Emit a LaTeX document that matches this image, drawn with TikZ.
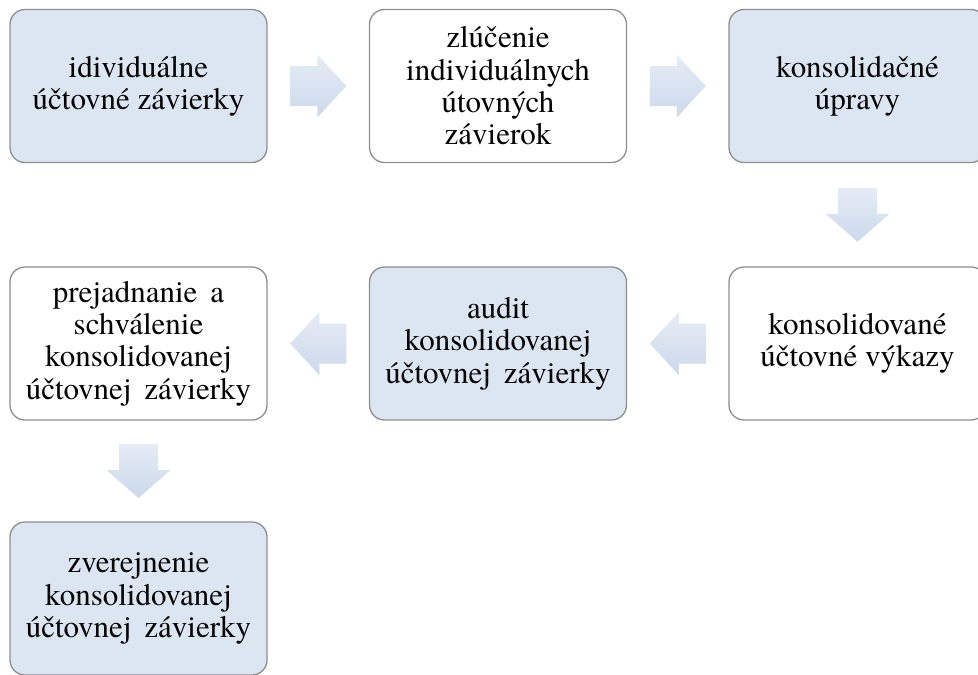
\documentclass[tikz,border=0pt]{standalone}
\usepackage{fontspec}
\newfontfamily\tnr{texgyretermes-regular.otf}
\usetikzlibrary{calc}
\definecolor{boxblue}{HTML}{DCE6F2}
\definecolor{boxgray}{HTML}{8E8E8E}
\definecolor{arrtop}{HTML}{E6ECF6}
\definecolor{arrbot}{HTML}{CCD8EB}
\tikzset{
  stepbox/.style={draw=boxgray, line width=1.3pt, rounded corners=15pt,
    minimum width=257pt, minimum height=153pt, align=center, inner sep=0pt,
    font=\tnr\fontsize{31}{32.3}\selectfont,
    execute at begin node={\rule{0pt}{28.5pt}}},
  bluebox/.style={stepbox, fill=boxblue},
  whitebox/.style={stepbox, fill=white},
  arrowfill/.style={top color=arrtop, bottom color=arrbot, draw=none}
}
\newcommand\rightblock[2]{%
  \coordinate (m) at ($(#1.east)!0.5!(#2.west)$);
  \path[arrowfill] ($(m)+(-28,-20)$) -- ($(m)+(-1,-20)$) -- ($(m)+(-1,-31.5)$) -- ($(m)+(28,0)$)
     -- ($(m)+(-1,31.5)$) -- ($(m)+(-1,20)$) -- ($(m)+(-28,20)$) -- cycle;}
\newcommand\leftblock[2]{%
  \coordinate (m) at ($(#1.west)!0.5!(#2.east)$);
  \path[arrowfill] ($(m)+(28,-20)$) -- ($(m)+(1,-20)$) -- ($(m)+(1,-31.5)$) -- ($(m)+(-28,0)$)
     -- ($(m)+(1,31.5)$) -- ($(m)+(1,20)$) -- ($(m)+(28,20)$) -- cycle;}
\newcommand\downblock[2]{%
  \coordinate (m) at ($(#1.south)!0.5!(#2.north)$);
  \path[arrowfill] ($(m)+(-19.5,-27)$) -- ($(m)+(19.5,-27)$) -- ($(m)+(19.5,-1)$) -- ($(m)+(32,-1)$)
     -- ($(m)+(0,27)$) -- ($(m)+(-32,-1)$) -- ($(m)+(-19.5,-1)$) -- cycle;}
\begin{document}
\begin{tikzpicture}[x=1pt,y=-1pt]
\useasboundingbox (0,0) rectangle (978,675);
\node[bluebox]  (b1) at (138.5,86)  {idividuálne\\účtovné závierky};
\node[whitebox] (b2) at (498,86)    {zlúčenie\\individuálnych\\útovných\\závierok};
\node[bluebox]  (b3) at (857.5,86)  {konsolidačné\\úpravy};
\node[whitebox] (b6) at (857.5,343.5) {konsolidované\\účtovné výkazy};
\node[bluebox]  (b5) at (498,343.5) {audit\\konsolidovanej\\účtovnej\hspace{0.42em}závierky};
\node[whitebox] (b4) at (138.5,343.5) {prejadnanie\hspace{0.42em}a\\schválenie\\konsolidovanej\\účtovnej\hspace{0.42em}závierky};
\node[bluebox]  (b7) at (138.5,598.5) {zverejnenie\\konsolidovanej\\účtovnej\hspace{0.42em}závierky};
\rightblock{b1}{b2}
\rightblock{b2}{b3}
\downblock{b3}{b6}
\leftblock{b6}{b5}
\leftblock{b5}{b4}
\downblock{b4}{b7}
\end{tikzpicture}
\end{document}
